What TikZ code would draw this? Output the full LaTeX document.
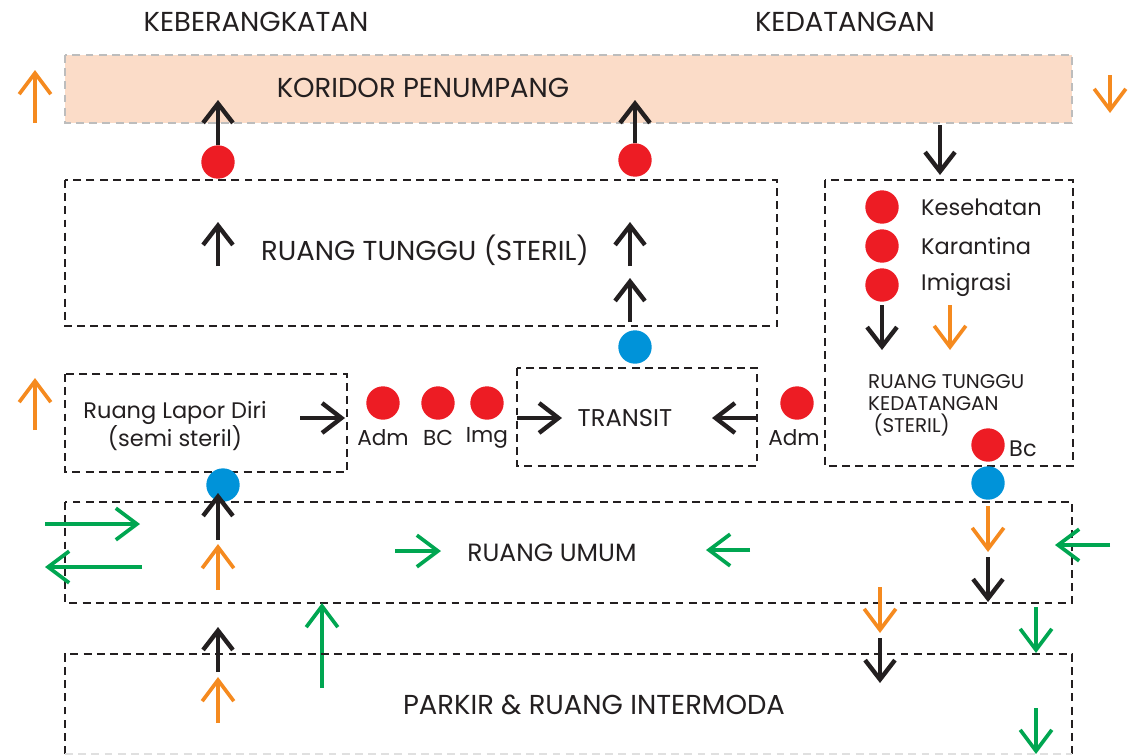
\documentclass[tikz,border=0pt]{standalone}
\usepackage{fontspec}
\setmainfont{Poppins}
\usetikzlibrary{arrows.meta}
\definecolor{ink}{HTML}{231F20}
\definecolor{cred}{HTML}{ED1C24}
\definecolor{cblue}{HTML}{0093D9}
\definecolor{corange}{HTML}{F58A1F}
\definecolor{cgreen}{HTML}{00A651}
\definecolor{peach}{HTML}{FBDCC8}
\definecolor{bordergray}{HTML}{BDBDBD}
\tikzset{
  zone/.style={draw=ink, line width=1.2pt, dash pattern=on 4.5pt off 3pt},
  kar/.style={line width=2.5pt, draw=ink, -{Straight Barb[length=11pt,width=17pt]}},
  oar/.style={line width=2.1pt, draw=corange, -{Straight Barb[length=12pt,width=18pt]}},
  gar/.style={line width=2.1pt, draw=cgreen, -{Straight Barb[length=12pt,width=18pt]}},
  rdot/.style={circle, fill=cred, inner sep=0pt, minimum size=19pt},
  bdot/.style={circle, fill=cblue, inner sep=0pt, minimum size=19pt},
  big/.style={font=\fontsize{15.6}{18}\selectfont, text=ink},
  mid/.style={font=\fontsize{12.8}{15.5}\selectfont, text=ink},
  small/.style={font=\fontsize{12.3}{14}\selectfont, text=ink},
  tiny/.style={font=\fontsize{11.3}{12.5}\selectfont, text=ink, align=left},
}
\begin{document}
\begin{tikzpicture}[x=0.02cm,y=-0.02cm]
\useasboundingbox (0,0) rectangle (1145,755);
% titles
\node[big] (tdep) at (256,22) {KEBERANGKATAN};
\node[big] (tarr) at (845,22) {KEDATANGAN};
% koridor
\draw[fill=peach, draw=bordergray, line width=1.2pt, dash pattern=on 4.5pt off 3pt] (65,55) rectangle (1072,123);
\node[big] (kor) at (423,88) {KORIDOR PENUMPANG};
\draw[oar] (35,123) -- (35,70);
\draw[oar] (1110,75) -- (1110,113);
% ruang tunggu
\draw[zone] (65,180) rectangle (777,326);
\node[big] (rt) at (425,250) {RUANG TUNGGU (STERIL)};
\node[rdot] (d1) at (218,162) {};
\node[rdot] (d2) at (635,160) {};
\coordinate (k1) at (218,100);
\coordinate (k2) at (635,100);
\draw[kar] (d1.north) -- (k1);
\draw[kar] (d2.north) -- (k2);
\draw[kar] (218,266) -- (218,222);
\draw[kar] (630,266) -- (630,222);
\draw[kar] (630,322) -- (630,278);
\node[bdot] (b1) at (635,347) {};
% arrival box
\draw[zone] (825,180) rectangle (1073,466);
\draw[kar] (940,125) -- (940,175);
\node[rdot] (ks) at (882,207) {};
\node[rdot] (kr) at (882,246) {};
\node[rdot] (im) at (882,285) {};
\node[mid, anchor=west] at (915,207) {Kesehatan};
\node[mid, anchor=west] at (915,246) {Karantina};
\node[mid, anchor=west] at (915,285) {Imigrasi};
\draw[kar] (882,305) -- (882,350);
\draw[oar] (950,305) -- (950,350);
\node[tiny, anchor=north west] (rtk) at (862,368) {RUANG TUNGGU\\KEDATANGAN\\\ (STERIL)};
\node[rdot] (bc2) at (988,445) {};
\node[mid, anchor=west] at (1003,449) {Bc};
\node[bdot] (b3) at (988,483) {};
% lapor diri
\draw[zone] (65,374) rectangle (347,472);
\node[mid, align=center] (lap) at (175,426) {Ruang Lapor Diri\\(semi steril)};
\draw[oar] (35,430) -- (35,378);
\draw[kar] (300,418) -- (345,418);
\node[rdot] (a1) at (383,403) {};
\node[rdot] (a2) at (438,403) {};
\node[rdot] (a3) at (487,403) {};
\node[small] at (383,438) {Adm};
\node[small] at (438,438) {BC};
\node[small] at (487,438) {Img};
% transit
\draw[zone] (517,368) rectangle (757,466);
\node[font=\fontsize{13.8}{16}\selectfont, text=ink] (tr) at (625,418) {TRANSIT};
\draw[kar] (517,418) -- (562,418);
\draw[kar] (757,418) -- (712,418);
\node[rdot] (a4) at (797,403) {};
\node[small] at (794,438) {Adm};
% blue dot lapor
\node[bdot] (b2) at (223,485) {};
% ruang umum
\draw[zone] (65,502) rectangle (1072,603);
\node[big, font=\fontsize{14.2}{17}\selectfont] (ru) at (552,553) {RUANG UMUM};
\draw[kar] (218,540) -- (218,493);
\draw[oar] (218,590) -- (218,544);
\draw[gar] (45,524) -- (140,524);
\draw[gar] (142,567) -- (45,567);
\draw[gar] (395,551) -- (441,551);
\draw[gar] (750,550) -- (706,550);
\draw[gar] (1110,545) -- (1055,545);
\draw[oar] (988,506) -- (988,552);
\draw[kar] (988,557) -- (988,602);
% between
\draw[gar] (322,688) -- (322,603);
\draw[kar] (218,672) -- (218,627);
\draw[oar] (218,723) -- (218,677);
\draw[oar] (880,587) -- (880,633);
\draw[kar] (880,638) -- (880,683);
\draw[gar] (1036,607) -- (1036,653);
\draw[gar] (1036,708) -- (1036,754);
% parkir
\draw[zone] (65,754) -- (65,654) -- (1072,654) -- (1072,754);
\draw[draw=black!12, line width=1pt, dash pattern=on 4.5pt off 3pt] (65,754) -- (1072,754);
\node[big] (pk) at (594,705) {PARKIR \& RUANG INTERMODA};
\end{tikzpicture}
\end{document}
